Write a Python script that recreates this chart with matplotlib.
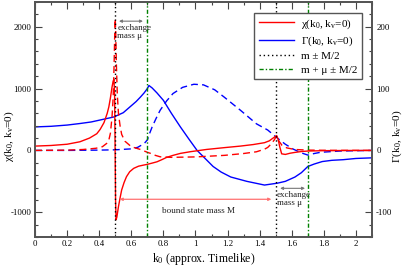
import matplotlib
matplotlib.use("Agg")
import matplotlib.pyplot as plt
from matplotlib.ticker import MultipleLocator
from matplotlib.lines import Line2D

plt.rcParams['font.family'] = ['Liberation Serif', 'DejaVu Serif']
plt.rcParams['mathtext.fontset'] = 'custom'
plt.rcParams['mathtext.rm'] = 'Liberation Serif'
plt.rcParams['mathtext.it'] = 'Liberation Serif'
plt.rcParams['axes.unicode_minus'] = False

# chi real part (left axis)
chi_re_k = [0, 0.1, 0.2, 0.28, 0.34, 0.385, 0.406, 0.43, 0.45, 0.46, 0.47, 0.48, 0.487, 0.492, 0.496,
            0.499, 0.502, 0.505, 0.51, 0.52, 0.53, 0.54, 0.555, 0.57, 0.59, 0.615, 0.645, 0.677, 0.70,
            0.73, 0.76, 0.79, 0.82, 0.86, 0.906, 0.97, 1.07, 1.18, 1.28, 1.36, 1.43, 1.46, 1.48, 1.495,
            1.506, 1.515, 1.525, 1.537, 1.56, 1.59, 1.62, 1.66, 1.7, 1.8, 1.95, 2.1]
chi_re_v = [70, 80, 100, 140, 200, 270, 340, 450, 600, 703, 850, 1025, 1120, 1150, 900,
            100, -800, -1120, -1080, -910, -770, -640, -520, -425, -345, -290, -255, -237, -225,
            -205, -184, -150, -113, -80, -48, -20, 16, 45, 70, 95, 125, 155, 193, 220,
            240, 180, 60, -55, -65, -45, -32, -18, -10, -4, -1, 0]

# chi imaginary part (left axis)
chi_im_k = [0, 0.2, 0.3, 0.38, 0.42, 0.45, 0.46, 0.47, 0.48, 0.487, 0.493, 0.497, 0.5, 0.503, 0.507,
            0.513, 0.52, 0.53, 0.54, 0.56, 0.6, 0.656, 0.7, 0.72, 0.75, 0.78, 0.85, 1.0, 1.18, 1.3,
            1.38, 1.43, 1.45, 1.47, 1.49, 1.505, 1.52, 1.54, 1.57, 1.62, 1.7, 1.85, 2.1]
chi_im_v = [0, 5, 15, 35, 60, 120, 166, 280, 542, 850, 1400, 1900, 2130, 1900, 1400,
            900, 600, 400, 260, 150, 60, 16, -30, -48, -80, -103, -112, -105, -80, -50,
            -22, 20, 48, 100, 166, 235, 150, 80, 40, 15, 5, 1, 0]

# Gamma real part (right axis)
gam_re_k = [0, 0.1, 0.2, 0.28, 0.35, 0.42, 0.49, 0.55, 0.59, 0.63, 0.656, 0.68, 0.7, 0.71, 0.73,
            0.76, 0.8, 0.85, 0.906, 0.96, 1.01, 1.06, 1.11, 1.16, 1.22, 1.32, 1.43, 1.51, 1.56,
            1.62, 1.66, 1.7, 1.74, 1.79, 1.85, 1.92, 2.0, 2.1]
gam_re_v = [38, 39, 41, 43.5, 46, 50, 54, 61, 70, 79, 86, 93, 100, 105, 101,
            93, 81, 60, 38, 18, 0, -13, -26, -35, -43, -50, -56, -53, -50,
            -43, -36, -26, -22, -18, -16, -15, -13, -12]

# Gamma imaginary part (right axis)
gam_im_k = [0, 0.2, 0.4, 0.5, 0.6, 0.64, 0.68, 0.7, 0.715, 0.73, 0.755, 0.78, 0.82, 0.86, 0.92,
            0.99, 1.05, 1.12, 1.18, 1.28, 1.38, 1.45, 1.51, 1.56, 1.61, 1.66, 1.70, 1.74, 1.78,
            1.9, 2.1]
gam_im_v = [0, 0, 0.5, 1, 2.5, 5, 11, 17, 28, 38, 52, 65, 80, 92, 102,
            107, 106, 98, 86, 65, 43, 33, 20, 10, 2, -4, -7.5, -5, -3,
            -1, 0]

m_lines = [0.5, 1.5]
mu_lines = [0.7, 1.7]

fig = plt.figure(figsize=(4.07, 2.66), dpi=100)
ax = fig.add_axes([35/407, 1-237/266, 337/407, 235/266])
ax2 = ax.twinx()

lw = 1.0
ax.plot(chi_re_k, chi_re_v, color='#ff0000', lw=lw)
ax.plot(chi_im_k, chi_im_v, color='#ff0000', lw=lw, dashes=(5, 3))
ax2.plot(gam_re_k, gam_re_v, color='#0000ff', lw=lw)
ax2.plot(gam_im_k, gam_im_v, color='#0000ff', lw=lw, dashes=(5, 3))

for xv in m_lines:
    ax.axvline(xv, color='black', lw=1.0, dashes=(1, 2))
for xv in mu_lines:
    ax.axvline(xv, color='#008000', lw=1.0, dashes=(3, 1.5, 1, 1.5))

ax.set_xlim(0, 2.1)
ax.set_ylim(-1400, 2400)
ax2.set_ylim(-140, 240)

ax.xaxis.set_minor_locator(MultipleLocator(0.1))
ax.yaxis.set_major_locator(MultipleLocator(1000))
ax.yaxis.set_minor_locator(MultipleLocator(200))
ax2.yaxis.set_major_locator(MultipleLocator(100))
ax2.yaxis.set_minor_locator(MultipleLocator(20))

ax.set_xticks([0, 0.2, 0.4, 0.6, 0.8, 1.0, 1.2, 1.4, 1.6, 1.8, 2.0])
ax.set_xticklabels(['0', '0.2', '0.4', '0.6', '0.8', '1', '1.2', '1.4', '1.6', '1.8', '2'])

ax.tick_params(which='both', direction='in', top=True, labelsize=6.3, color='#444444', pad=2.5)
ax.tick_params(which='major', length=5, width=0.8)
ax.tick_params(which='minor', length=2.5, width=0.8)
ax2.tick_params(which='both', direction='in', labelsize=6.3, color='#444444', pad=3)
ax2.tick_params(which='major', length=5, width=0.8)
ax2.tick_params(which='minor', length=2.5, width=0.8)
for a in (ax, ax2):
    for s in a.spines.values():
        s.set_linewidth(1.3)
        s.set_color('#555555')

ax.set_xlabel(r'k$_0$ (approx. Timelike)', fontsize=8.5, labelpad=2)
ax.set_ylabel(r'$\chi$(k$_0$, k$_v$=0)', fontsize=8.2, va='center')
ax2.set_ylabel(r'$\Gamma$(k$_0$, k$_v$=0)', fontsize=8.2, va='center', rotation=90)
ax.yaxis.set_label_coords(-0.077, 0.43)
ax2.yaxis.set_label_coords(1.074, 0.43)

# annotations
ax.annotate('', xy=(0.506, 2090), xytext=(0.69, 2090),
            arrowprops=dict(arrowstyle='<|-|>', color='#777777', lw=0.8, mutation_scale=4))
ax.text(0.512, 2040, 'exchange\nmass \u03bc', fontsize=6.5, va='top', ha='left',
        linespacing=1.0, color='#222222')
ax.annotate('', xy=(1.51, -613), xytext=(1.70, -613),
            arrowprops=dict(arrowstyle='<|-|>', color='#777777', lw=0.8, mutation_scale=4))
ax.text(1.508, -660, 'exchange\nmass \u03bc', fontsize=6.5, va='top', ha='left',
        linespacing=1.0, color='#222222')
ax.annotate('', xy=(0.51, -790), xytext=(1.49, -790),
            arrowprops=dict(arrowstyle='<|-|>', color='#ff7070', lw=0.9, mutation_scale=4))
ax.text(1.02, -980, 'bound state mass M', fontsize=6.6, ha='center', va='center', color='#222222')

# legend
handles = [Line2D([], [], color='#ff0000', lw=lw),
           Line2D([], [], color='#0000ff', lw=lw),
           Line2D([], [], color='black', lw=1.0, dashes=(1, 2)),
           Line2D([], [], color='#008000', lw=1.0, dashes=(3, 1.5, 1, 1.5))]
labels = [r'$\chi$(k$_0$, k$_v$=0)', r'$\Gamma$(k$_0$, k$_v$=0)', 'm \u00b1 M/2', 'm + \u03bc \u00b1 M/2']
leg = ax.legend(handles, labels, loc='upper right', bbox_to_anchor=(0.97, 0.955), fontsize=8,
                frameon=True, fancybox=False, edgecolor='#555555', framealpha=1,
                handlelength=3.2, handletextpad=0.6, borderpad=0.4, labelspacing=0.33,
                borderaxespad=0)
leg.get_frame().set_linewidth(1.0)
leg.set_zorder(10)
ax.set_zorder(ax2.get_zorder() + 1)
ax.patch.set_visible(False)

fig.savefig('out.png', dpi=100)
